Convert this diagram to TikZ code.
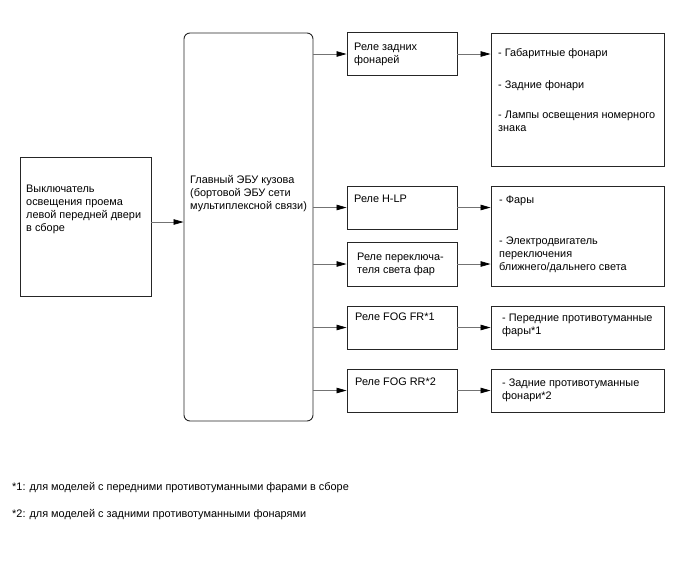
\documentclass[tikz,border=0pt]{standalone}
\usepackage{fontspec}
\setmainfont{Liberation Sans}
\usetikzlibrary{arrows.meta, positioning, calc}
\newcommand{\toplines}[1]{\begin{tabular}[t]{@{}l@{}}#1\end{tabular}}

\begin{document}
\begin{tikzpicture}[
	x=1pt, y=-1pt,
	box/.style={rectangle, draw=black!85, line width=0.9pt, inner sep=0pt},
	relay/.style={box, minimum width=110pt, minimum height=43pt},
	lamp/.style={box, minimum width=173pt},
	txt/.style={font=\fontsize{10.9}{13.2}\selectfont, inner sep=0pt, anchor=base west},
	arrow/.style={draw=black!55, line width=0.7pt, -{Triangle[length=10pt, width=5.5pt, color=black]}}
]
\useasboundingbox (0,0) rectangle (688,560);

% Switch and main body ECU
\node[box, minimum width=131pt, minimum height=139pt] (sw) at (85.5,226.5) {};
\node[txt] (swtext) at (26,192) {\toplines{Выключатель\\освещения проема\\левой передней двери\\в сборе}};

\node[box, rounded corners=6pt, minimum width=129pt, minimum height=388pt] (ecu) at (248.5,227) {};
\node[txt] (ecutext) at (190,183.5) {\toplines{Главный ЭБУ кузова\\(бортовой ЭБУ сети\\мультиплексной связи)}};

\draw[arrow] ([yshift=4.5pt]sw.east) -- ([yshift=4.5pt]sw.east -| ecu.west);

% Relays
\node[relay] (rtail) at (402,54) {};
\node[txt] (rtailtext) at (354,50) {\toplines{Реле задних\\фонарей}};

\node[relay] (rhlp) at (402,207.5) {};
\node[txt] (rhlptext) at (354,202) {Реле H-LP};

\node[relay, minimum height=44pt] (rdim) at (402,264) {};
\node[txt] (rdimtext) at (357,260.5) {\toplines{Реле переключа-\\теля света фар}};

\node[relay] (rfogfr) at (402,327.5) {};
\node[txt] (rfogfrtext) at (355,320) {Реле FOG FR*1};

\node[relay] (rfogrr) at (402,390.5) {};
\node[txt] (rfogrrtext) at (355,385) {Реле FOG RR*2};

\foreach \r in {rtail, rhlp, rdim, rfogfr, rfogrr}
	\draw[arrow] (ecu.east |- \r) -- (\r);

% Lamps
\node[lamp, minimum height=133pt] (ltail) at (577.5,99.5) {};
\node[txt] (ltailtext) at (498,56) {\toplines{- Габаритные фонари\\[19pt]- Задние фонари\\[17pt]- Лампы освещения номерного\\знака}};

\node[lamp, minimum height=100pt] (lhead) at (577.5,236) {};
\node[txt] (lheadtext) at (499,203.5) {\toplines{- Фары\\[27.5pt]- Электродвигатель\\переключения\\ближнего/дальнего света}};

\node[lamp, minimum height=43pt] (lfogfr) at (577.5,327.5) {};
\node[txt] (lfogfrtext) at (502,321.5) {\toplines{- Передние противотуманные\\фары*1}};

\node[lamp, minimum height=43pt] (lfogrr) at (577.5,390.5) {};
\node[txt] (lfogrrtext) at (502,386) {\toplines{- Задние противотуманные\\фонари*2}};

\draw[arrow] (rtail) -- (rtail -| ltail.west);
\draw[arrow] (rhlp) -- (rhlp -| lhead.west);
\draw[arrow] (rdim) -- (rdim -| lhead.west);
\draw[arrow] (rfogfr) -- (lfogfr);
\draw[arrow] (rfogrr) -- (lfogrr);

% Footnotes
\node[txt] (note1) at (12,490) {*1: для моделей с передними противотуманными фарами в сборе};
\node[txt] (note2) at (12,517) {*2: для моделей с задними противотуманными фонарями};
\end{tikzpicture}
\end{document}
